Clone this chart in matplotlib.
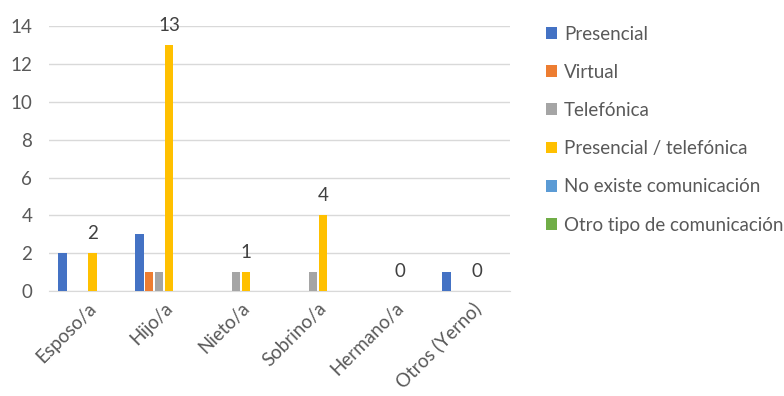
import matplotlib
matplotlib.use("Agg")
import matplotlib.pyplot as plt
import numpy as np

categories = ["Esposo/a", "Hijo/a", "Nieto/a", "Sobrino/a", "Hermano/a", "Otros (Yerno)"]
series_names = ["Presencial", "Virtual", "Telefónica", "Presencial / telefónica",
                "No existe comunicación", "Otro tipo de comunicación"]
presencial = [2, 3, 0, 0, 0, 1]
virtual = [0, 1, 0, 0, 0, 0]
telefonica = [0, 1, 1, 1, 0, 0]
presencial_telefonica = [2, 13, 1, 4, 0, 0]
no_existe = [0, 0, 0, 0, 0, 0]
otro_tipo = [0, 0, 0, 0, 0, 0]
colors = ["#4472C4", "#ED7D31", "#A5A5A5", "#FFC000", "#5B9BD5", "#70AD47"]

series = [presencial, virtual, telefonica, presencial_telefonica, no_existe, otro_tipo]

plt.rcParams['font.family'] = ['Lato', 'DejaVu Sans']
fig = plt.figure(figsize=(7.84, 3.96), dpi=100)
ax = fig.add_axes([0.0625, 0.265, 0.588, 0.669])

x = np.arange(len(categories))
slot = 0.13
width = 0.11
n = len(series)
fs = 13.5
for i, (name, vals, c) in enumerate(zip(series_names, series, colors)):
    pos = x + (i - (n - 1) / 2) * slot
    ax.bar(pos, vals, width=width, color=c, label=name, zorder=3)
    if i == 3:
        for xp, v in zip(pos, vals):
            ax.annotate(str(v), (xp, v), xytext=(0, 8), textcoords="offset points",
                        ha="center", va="bottom", fontsize=fs, color="#404040",
                        annotation_clip=False)

ax.set_xlim(-0.5, len(categories) - 0.5)
ax.set_ylim(0, 14)
ax.set_yticks(range(0, 15, 2))
ax.grid(axis="y", color="#D9D9D9", linewidth=1, zorder=0)
for s in ["top", "right", "left"]:
    ax.spines[s].set_visible(False)
ax.spines["bottom"].set_color("#D9D9D9")
ax.tick_params(axis="both", length=0, labelsize=fs, colors="#595959")
ax.tick_params(axis="y", pad=12)
ax.tick_params(axis="x", pad=6)
ax.set_xticks(x)
ax.set_xticklabels(categories, rotation=45, ha="right", rotation_mode="anchor")

handles, labels = ax.get_legend_handles_labels()
fig.legend(handles, labels, loc="upper left", bbox_to_anchor=(0.675, 0.978),
           frameon=False, fontsize=fs, labelcolor="#595959",
           handlelength=0.6, handleheight=0.6, handletextpad=0.35,
           labelspacing=1.13)

fig.savefig("out.png", dpi=100)
